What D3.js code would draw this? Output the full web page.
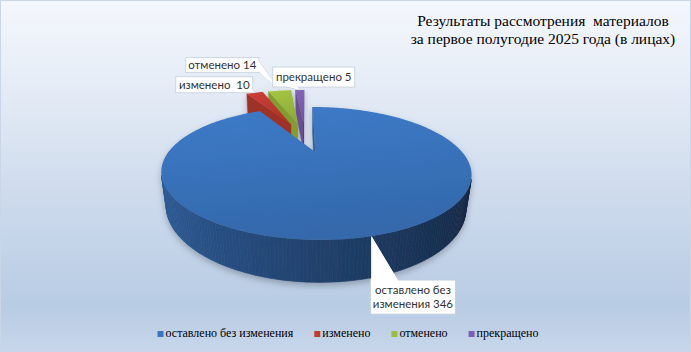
<!DOCTYPE html>
<html>
<head>
<meta charset="utf-8">
<script src="https://cdn.jsdelivr.net/npm/d3@7"></script>
<style>
  body { margin: 0; background: #fff; }
  .serif { font-family: "Liberation Serif", "Times New Roman", "DejaVu Serif", serif; }
</style>
</head>
<body>
<script>
// chart data
var categories = ["оставлено без изменения", "изменено", "отменено", "прекращено"];
var values = [346, 10, 14, 5];
var labelLines = [["оставлено без", "изменения 346"], ["изменено  10"], ["отменено 14"], ["прекращено 5"]];
var titleLines = ["Результаты рассмотрения  материалов", "за первое полугодие 2025 года (в лицах)"];
var colors = ["#3a75bf", "#c23a30", "#9cbd3e", "#7f5db4"];

var W = 691, H = 352;

var svg = d3.select("body").append("svg")
    .attr("width", W)
    .attr("height", H);

var defs = svg.append("defs");

// background gradient
var bg = defs.append("linearGradient").attr("id", "bg")
    .attr("x1", 0).attr("y1", 0).attr("x2", 0).attr("y2", 1);
[[0, "#f4f7fc"], [0.2, "#e8eef7"], [0.55, "#cedbed"], [0.87, "#b8cce4"], [1, "#c7d6ea"]].forEach(function(s) {
  bg.append("stop").attr("offset", s[0]).attr("stop-color", s[1]);
});

svg.append("rect")
    .attr("x", 0.5).attr("y", 0.5)
    .attr("width", W - 1).attr("height", H - 1)
    .attr("fill", "url(#bg)")
    .attr("stroke", "#c9d6e8");

// shadow under the pie
var shadow = defs.append("filter").attr("id", "shadow")
    .attr("x", "-20%").attr("y", "-20%").attr("width", "140%").attr("height", "140%");
shadow.append("feDropShadow")
    .attr("dx", 0).attr("dy", 3).attr("stdDeviation", 3)
    .attr("flood-color", "#000").attr("flood-opacity", 0.25);

// 3d projection (perspective, camera tilted down)
var tilt = 21.8 * Math.PI / 180;
var camDist = 3.13, focal = 421;
var cx0 = 305, cy0 = 136.6;
var thick = 0.245, explode = 0.29;
var cam = [0, camDist * Math.sin(tilt), camDist * Math.cos(tilt)];

function project(X, Y, Z) {
  var yc = Y * Math.cos(tilt) - Z * Math.sin(tilt);
  var zc = camDist - Z * Math.cos(tilt) - Y * Math.sin(tilt);
  return [cx0 + focal * X / zc, cy0 - focal * yc / zc];
}

var pie = d3.pie().sort(null).value(function(d) { return d; });
var arcs = pie(values);

var line = d3.line();

var slices = arcs.map(function(a, i) {
  var mid = (a.startAngle + a.endAngle) / 2;
  return {
    i: i, a0: a.startAngle, a1: a.endAngle, mid: mid,
    ox: explode * Math.sin(mid), oz: -explode * Math.cos(mid)
  };
});

function pt(s, th, Y) {
  return project(s.ox + Math.sin(th), Y, s.oz - Math.cos(th));
}

function facing(nx, nz, px, pz) {
  return nx * (cam[0] - px) + nz * (cam[2] - pz) > 0;
}

var pieG = svg.append("g").attr("filter", "url(#shadow)");

// far slices first
slices.slice().sort(function(a, b) { return a.oz - b.oz; }).forEach(function(s) {
  var base = d3.rgb(colors[s.i]);
  var g = pieG.append("g");
  var wallCol = s.i == 0
      ? d3.interpolateRgb("#13253f", "#2f5d99")
      : d3.interpolateRgb(base.darker(1.6), base.darker(0.5));

  // radial walls
  [[s.a0, -1], [s.a1, 1]].forEach(function(w) {
    var th = w[0];
    var nx = w[1] * Math.cos(th), nz = w[1] * Math.sin(th);
    var px = s.ox + 0.5 * Math.sin(th), pz = s.oz - 0.5 * Math.cos(th);
    if (!facing(nx, nz, px, pz)) return;
    var c = wallCol((1 - nx) / 2);
    g.append("path")
        .attr("d", line([project(s.ox, 0, s.oz), pt(s, th, 0), pt(s, th, -thick), project(s.ox, -thick, s.oz)]) + "Z")
        .attr("fill", c).attr("stroke", c).attr("stroke-width", 0.5);
  });

  // outer wall
  var n = Math.max(3, Math.ceil((s.a1 - s.a0) / 0.02));
  for (var k = 0; k < n; k++) {
    var ta = s.a0 + (s.a1 - s.a0) * k / n;
    var tb = s.a0 + (s.a1 - s.a0) * (k + 1) / n;
    var tm = (ta + tb) / 2;
    var nx = Math.sin(tm), nz = -Math.cos(tm);
    if (!facing(nx, nz, s.ox + nx, s.oz + nz)) continue;
    var c = wallCol((1 - nx) / 2);
    g.append("path")
        .attr("d", line([pt(s, ta, 0), pt(s, tb, 0), pt(s, tb, -thick), pt(s, ta, -thick)]) + "Z")
        .attr("fill", c).attr("stroke", c).attr("stroke-width", 0.6);
  }

  // top face
  var grad = defs.append("linearGradient").attr("id", "top" + s.i)
      .attr("x1", 0).attr("y1", 0).attr("x2", 0.2).attr("y2", 1);
  grad.append("stop").attr("offset", 0).attr("stop-color", base.brighter(0.15));
  grad.append("stop").attr("offset", 1).attr("stop-color", base.darker(0.3));

  var pts = [project(s.ox, 0, s.oz)];
  for (var k = 0; k <= n; k++) {
    pts.push(pt(s, s.a0 + (s.a1 - s.a0) * k / n, 0));
  }
  g.append("path")
      .attr("d", line(pts) + "Z")
      .attr("fill", "url(#top" + s.i + ")");
});

// data labels (callouts)
var labelFont = "Lato, 'Liberation Sans', sans-serif";
var boxes = [
  {dx: -1, dy: 44, w: 85, h: 34},
  {dx: -79, dy: -16, w: 77, h: 16},
  {dx: -94, dy: -33, w: 73, h: 15},
  {dx: -27, dy: -23, w: 82, h: 20}
];

var labG = svg.append("g");
slices.forEach(function(s) {
  var A = pt(s, s.mid, 0);
  var b = boxes[s.i];
  var bx = A[0] + b.dx, by = A[1] + b.dy;
  var wedge;
  if (s.i == 0) wedge = [A, [bx + 1, by + 1], [bx + 28, by + 1]];
  if (s.i == 1) wedge = [A, [bx + b.w - 8, by + b.h - 1], [bx + b.w - 1, by + b.h - 4]];
  if (s.i == 2) wedge = [A, [bx + b.w - 1, by + 2], [bx + b.w - 1, by + b.h - 2]];
  if (s.i == 3) wedge = [A, [bx + 12, by + b.h - 1], [bx + 24, by + b.h - 1]];

  var g = labG.append("g");
  g.append("path")
      .attr("d", line(wedge) + "Z")
      .attr("fill", "#fff")
      .attr("stroke", "#b4c3d6")
      .attr("stroke-width", s.i == 0 ? 0 : 0.8);
  g.append("rect")
      .attr("x", bx).attr("y", by)
      .attr("width", b.w).attr("height", b.h)
      .attr("fill", "#fff")
      .attr("stroke", "#c3cedc")
      .attr("stroke-width", 0.8);
  // cover the join between wedge and box
  g.append("path")
      .attr("d", line(wedge) + "Z")
      .attr("fill", "#fff");

  var lines = labelLines[s.i];
  var lh = 14;
  lines.forEach(function(t, j) {
    g.append("text")
        .attr("x", bx + b.w / 2)
        .attr("y", by + b.h / 2 + 4.2 + (j - (lines.length - 1) / 2) * lh)
        .attr("text-anchor", "middle")
        .style("white-space", "pre")
        .style("font-family", labelFont)
        .style("font-size", "11.5px")
        .attr("fill", "#333")
        .text(t);
  });
});

// title
titleLines.forEach(function(t, j) {
  svg.append("text")
      .attr("class", "serif")
      .attr("x", 543)
      .attr("y", 26 + j * 18)
      .attr("text-anchor", "middle")
      .style("white-space", "pre")
      .style("font-size", "15.5px")
      .attr("fill", "#000")
      .text(t);
});

// legend
var legend = svg.append("g");
var items = legend.selectAll("g")
    .data(categories)
    .enter()
    .append("g");
items.append("rect")
    .attr("width", 6).attr("height", 6)
    .attr("y", 331)
    .attr("fill", function(d, i) { return colors[i]; });
items.append("text")
    .attr("class", "serif")
    .attr("x", 8)
    .attr("y", 337)
    .style("font-size", "12px")
    .attr("fill", "#000")
    .text(function(d) { return d; });

var widths = [];
items.select("text").each(function() { widths.push(8 + this.getComputedTextLength()); });
var gap = 21;
var total = d3.sum(widths) + gap * (widths.length - 1);
var x = 348 - total / 2;
items.attr("transform", function(d, i) {
  var t = "translate(" + x + ",0)";
  x += widths[i] + gap;
  return t;
});
</script>
</body>
</html>
